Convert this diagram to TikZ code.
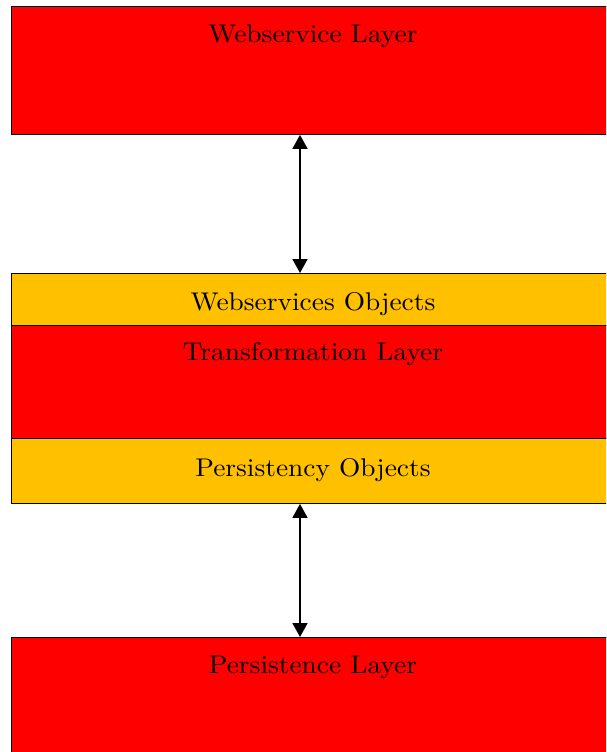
\documentclass[tikz,border=0pt]{standalone}
\usepackage{fontspec}
\newfontfamily\lblfont{lmroman10-regular.otf}[FakeStretch=1.07]
\usetikzlibrary{arrows.meta}
\definecolor{layerred}{HTML}{FF0000}
\definecolor{objorange}{HTML}{FFC000}
\begin{document}
\begin{tikzpicture}[x=1pt,y=-1pt,
  layerbox/.style={draw=black, line width=0.9pt, rectangle, inner sep=0pt, anchor=north west, minimum width=606pt},
  lbl/.style={anchor=base, inner sep=0pt, font=\lblfont\fontsize{25.6}{30}\selectfont},
  dbl/.style={line width=1.8pt, {Triangle[length=14pt,width=15pt]}-{Triangle[length=14pt,width=15pt]}}]
\useasboundingbox (0,0) rectangle (606,752);
\clip (0,0) rectangle (606,752);
\node[layerbox, fill=layerred, minimum height=128pt] (ws) at (11,6) {};
\node[layerbox, fill=objorange, minimum height=52pt] (wso) at (11,273) {};
\node[layerbox, fill=layerred, minimum height=113pt] (tl) at (11,325) {};
\node[layerbox, fill=objorange, minimum height=65pt] (po) at (11,438) {};
\node[layerbox, fill=layerred, minimum height=130pt] (pl) at (11,637) {};
\node[lbl] (wsl) at (313,43) {Webservice Layer};
\node[lbl] (wsol) at (313,310) {Webservices Objects};
\node[lbl] (tll) at (313,360) {Transformation Layer};
\node[lbl] (pol) at (313,476) {Persistency Objects};
\node[lbl] (pll) at (313,673) {Persistence Layer};
\coordinate (ax) at (300,0);
\draw[dbl] (ws.south -| ax) -- (wso.north -| ax);
\draw[dbl] (po.south -| ax) -- (pl.north -| ax);
\end{tikzpicture}
\end{document}
